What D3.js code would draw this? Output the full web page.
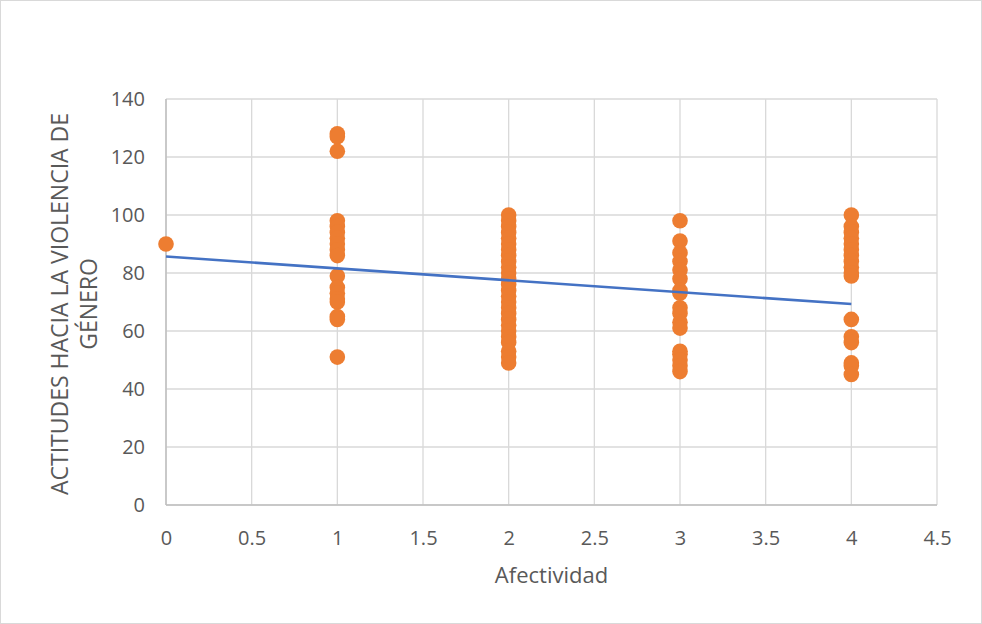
<!DOCTYPE html>
<html><head><meta charset="utf-8">
<script src="https://cdn.jsdelivr.net/npm/d3@7"></script>
<style>body{margin:0;background:#fff;} text{font-family:"Open Sans",Lato,sans-serif;}</style>
</head><body>
<svg id="c" width="982" height="624"></svg>
<script>
const xTicks = [0,0.5,1,1.5,2,2.5,3,3.5,4,4.5];
const xTickLabels = ["0","0.5","1","1.5","2","2.5","3","3.5","4","4.5"];
const yTicks = [0,20,40,60,80,100,120,140];
const col0 = [90];
const col1 = [128,127,122,98,96,94,92,90,88,86,79,75,73,71,70,65,64,51];
const col2 = [100,98,96,94,92,90,88,86,84,82,80,78,76,74,72,70,68,66,64,62,60,58,56,53,51,49];
const col3 = [98,91,87,84,81,78,74,73,68,66,63,61,53,52,50,48,46];
const col4 = [100,96,94,92,90,88,86,84,82,80,79,64,58,56,49,48,45];
const xValues = [0,1,2,3,4];
const trendX = [0,4];
const trendY = [85.7,69.3];
const xTitle = "Afectividad";
const yTitleLines = ["ACTITUDES HACIA LA VIOLENCIA DE","GÉNERO"];

const cols = [col0,col1,col2,col3,col4];
const points = [];
cols.forEach((c,i)=>c.forEach(v=>points.push({x:xValues[i],y:v})));

const svg = d3.select("#c");
svg.append("rect").attr("x",0.5).attr("y",0.5).attr("width",981).attr("height",623)
  .attr("fill","#fff").attr("stroke","#d9d9d9");

const L=166,R=937,T=99,B=505;
const x = d3.scaleLinear().domain([0,4.5]).range([L,R]);
const y = d3.scaleLinear().domain([0,140]).range([B,T]);

const g = svg.append("g");
g.selectAll(".vg").data(xTicks).join("line")
  .attr("x1",d=>x(d)).attr("x2",d=>x(d)).attr("y1",T).attr("y2",B)
  .attr("stroke","#d9d9d9").attr("stroke-width",1.3);
g.selectAll(".hg").data(yTicks).join("line")
  .attr("x1",L).attr("x2",R).attr("y1",d=>y(d)).attr("y2",d=>y(d))
  .attr("stroke","#d9d9d9").attr("stroke-width",1.3);
g.append("line").attr("x1",L).attr("x2",L).attr("y1",T).attr("y2",B).attr("stroke","#bfbfbf").attr("stroke-width",1.5);
g.append("line").attr("x1",L).attr("x2",R).attr("y1",B).attr("y2",B).attr("stroke","#bfbfbf").attr("stroke-width",1.5);

const yAx = svg.append("g").attr("transform",`translate(${L},0)`)
  .call(d3.axisLeft(y).tickValues(yTicks).tickSize(0).tickPadding(21).tickFormat(d3.format("d")));
const xAx = svg.append("g").attr("transform",`translate(0,${B})`)
  .call(d3.axisBottom(x).tickValues(xTicks).tickSize(0).tickPadding(26).tickFormat((d,i)=>xTickLabels[i]));
[yAx,xAx].forEach(a=>{a.select(".domain").remove();
  a.selectAll("text").attr("fill","#595959").style("font-size","20px").style("font-family","'Open Sans',sans-serif");});

g.selectAll(".pt").data(points).join("circle")
  .attr("cx",d=>x(d.x)).attr("cy",d=>y(d.y)).attr("r",7.8).attr("fill","#ED7D31");

g.append("line").attr("x1",x(trendX[0])).attr("y1",y(trendY[0])).attr("x2",x(trendX[1])).attr("y2",y(trendY[1]))
  .attr("stroke","#4472C4").attr("stroke-width",2.6);

svg.append("text").attr("x",(L+R)/2).attr("y",583).attr("text-anchor","middle")
  .attr("fill","#595959").style("font-size","22px").text(xTitle);
const yt = svg.append("text").attr("transform","translate(68,304) rotate(-90)")
  .attr("text-anchor","middle").attr("fill","#595959").style("font-size","23px");
yTitleLines.forEach((t,i)=>yt.append("tspan").attr("x",0).attr("dy",i?29:0).text(t));
</script>
</body></html>
